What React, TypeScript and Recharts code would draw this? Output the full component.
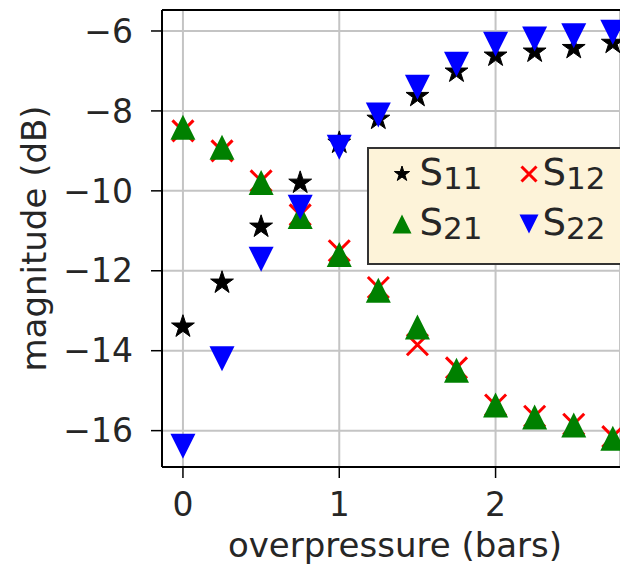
import {
  ScatterChart, Scatter, XAxis, YAxis, CartesianGrid, ReferenceLine, Legend,
} from 'recharts'

// overpressure steps (bars)
const PRESSURE = [0, 0.25, 0.5, 0.75, 1, 1.25, 1.5, 1.75, 2, 2.25, 2.5, 2.75]

// magnitudes in dB
const S11 = [-13.4, -12.3, -10.9, -9.8, -8.8, -8.2, -7.63, -7.02, -6.62, -6.52, -6.43, -6.3]
const S12 = [-8.5, -9.0, -9.75, -10.6, -11.5, -12.42, -13.85, -14.43, -15.36, -15.64, -15.84, -16.15]
const S21 = [-8.41, -8.91, -9.79, -10.64, -11.59, -12.49, -13.41, -14.49, -15.36, -15.66, -15.86, -16.19]
const S22 = [-16.39, -14.2, -11.71, -10.41, -8.91, -8.1, -7.41, -6.83, -6.33, -6.2, -6.12, -6.03]

const X_TICKS = [0, 1, 2]
const Y_TICKS = [-16, -14, -12, -10, -8, -6]

const X_DOMAIN: [number, number] = [-0.134, 2.796]
const Y_DOMAIN: [number, number] = [-16.91, -5.475]

const FONT = '"DejaVu Sans", Verdana, sans-serif'
const TEXT = '#262626'

type Kind = 'star' | 'cross' | 'up' | 'down'

const SERIES: { key: string; sub: string; kind: Kind; color: string; values: number[] }[] = [
  { key: 'S11', sub: '11', kind: 'star', color: '#000000', values: S11 },
  { key: 'S12', sub: '12', kind: 'cross', color: '#ff0000', values: S12 },
  { key: 'S21', sub: '21', kind: 'up', color: '#008000', values: S21 },
  { key: 'S22', sub: '22', kind: 'down', color: '#0000ff', values: S22 },
]

const PLOT_SIZE: Record<Kind, number> = { star: 24, cross: 21, up: 25, down: 25 }
const LEGEND_SIZE: Record<Kind, number> = { star: 16, cross: 15, up: 19, down: 19 }

function Marker({ kind, cx, cy, size, color }: { kind: Kind; cx: number; cy: number; size: number; color: string }) {
  const h = size / 2
  if (kind === 'star') {
    const pts: string[] = []
    for (let i = 0; i < 10; i++) {
      const r = i % 2 === 0 ? h : h * 0.382
      const a = (Math.PI / 5) * i - Math.PI / 2
      pts.push(`${cx + r * Math.cos(a)},${cy + r * Math.sin(a)}`)
    }
    return <polygon points={pts.join(' ')} fill={color} stroke={color} strokeWidth={1} />
  }
  if (kind === 'cross') {
    return (
      <path
        d={`M${cx - h},${cy - h}L${cx + h},${cy + h}M${cx - h},${cy + h}L${cx + h},${cy - h}`}
        stroke={color}
        strokeWidth={3}
        fill="none"
      />
    )
  }
  if (kind === 'up') {
    return <polygon points={`${cx},${cy - h} ${cx - h},${cy + h} ${cx + h},${cy + h}`} fill={color} />
  }
  return <polygon points={`${cx},${cy + h} ${cx - h},${cy - h} ${cx + h},${cy - h}`} fill={color} />
}

function LegendBox() {
  // 2 columns x 2 rows, like matplotlib ncol=2
  return (
    <svg width={260} height={118} style={{ display: 'block' }}>
      <rect x={1} y={1} width={280} height={116} fill="#fdf3d9" stroke="#333" strokeWidth={2} />
      {SERIES.map((s, i) => {
        const col = i % 2
        const row = Math.floor(i / 2)
        const mx = col === 0 ? 35 : 162
        const my = row === 0 ? 27 : 77
        const tx = col === 0 ? 52.5 : 175.5
        const ty = row === 0 ? 38 : 88
        return (
          <g key={s.key}>
            <Marker kind={s.kind} cx={mx} cy={my} size={LEGEND_SIZE[s.kind]} color={s.color} />
            <text x={tx} y={ty} fill={TEXT} fontFamily={FONT}>
              <tspan fontSize={37}>S</tspan>
              <tspan fontSize={31} dy={4}>{s.sub}</tspan>
            </text>
          </g>
        )
      })}
    </svg>
  )
}

const fmt = (v: number) => String(v).replace('-', '\u2212')

export default function App() {
  return (
    <div style={{ position: 'absolute', left: 0, top: 0, width: 620, height: 568, overflow: 'hidden', background: '#fff' }}>
      <ScatterChart width={620} height={568} margin={{ top: 10, right: 0, bottom: 0, left: 0 }}>
        <CartesianGrid stroke="#c4c4c4" strokeWidth={2} />
        <XAxis
          dataKey="x"
          type="number"
          domain={X_DOMAIN}
          ticks={X_TICKS}
          allowDataOverflow
          height={101}
          stroke="#000"
          axisLine={{ stroke: '#000', strokeWidth: 2 }}
          tickLine={{ stroke: '#000', strokeWidth: 1.5 }}
          tickSize={11}
          tickMargin={15}
          tick={{ fontSize: 33, fontFamily: FONT, fill: TEXT }}
          label={{ value: 'overpressure (bars)', position: 'insideBottom', offset: 11, fontSize: 34, fontFamily: FONT, fill: TEXT, dx: 4 }}
        />
        <YAxis
          dataKey="y"
          type="number"
          domain={Y_DOMAIN}
          ticks={Y_TICKS}
          allowDataOverflow
          width={162}
          stroke="#000"
          axisLine={{ stroke: '#000', strokeWidth: 2 }}
          tickLine={{ stroke: '#000', strokeWidth: 1.5 }}
          tickSize={11}
          tickMargin={18}
          tickFormatter={fmt}
          tick={{ fontSize: 33, fontFamily: FONT, fill: TEXT }}
          label={{
            value: 'magnitude (dB)', angle: -90, position: 'insideLeft', offset: 34,
            fontSize: 34, fontFamily: FONT, fill: TEXT, style: { textAnchor: 'middle' },
          }}
        />
        <ReferenceLine y={Y_DOMAIN[1]} stroke="#000" strokeWidth={2} />
        {SERIES.map((s) => (
          <Scatter
            key={s.key}
            name={s.key}
            data={PRESSURE.map((x, i) => ({ x, y: s.values[i] }))}
            fill={s.color}
            isAnimationActive={false}
            shape={(p: any) => <Marker kind={s.kind} cx={p.cx} cy={p.cy} size={PLOT_SIZE[s.kind]} color={s.color} />}
          />
        ))}
        <Legend
          verticalAlign="middle"
          align="center"
          wrapperStyle={{ left: 367, top: 147, width: 260, height: 118 }}
          content={() => <LegendBox />}
        />
      </ScatterChart>
    </div>
  )
}
